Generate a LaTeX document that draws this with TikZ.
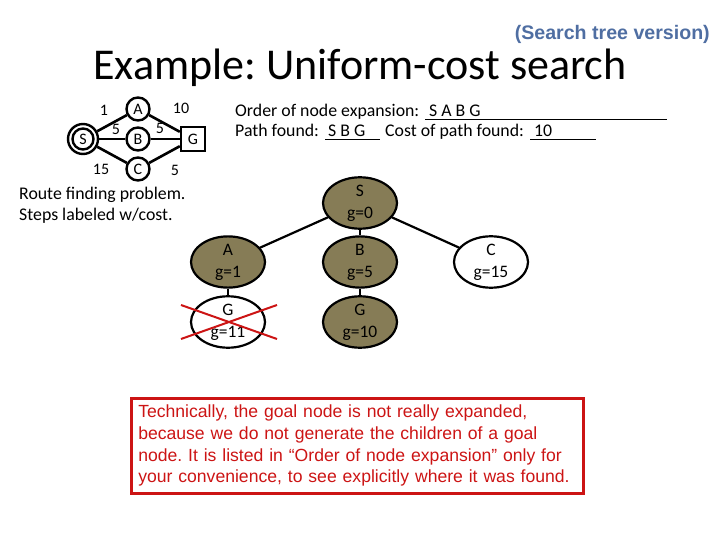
\documentclass[tikz,border=0pt]{standalone}
\usepackage{fontspec}
\setmainfont{Carlito}
\newfontfamily\arialf{Liberation Sans}
\usetikzlibrary{shapes.geometric}
\frenchspacing
\definecolor{olivefill}{RGB}{134,124,86}
\definecolor{boxred}{RGB}{204,20,20}
\definecolor{titleblue}{RGB}{79,110,162}
\tikzset{
  gnode/.style={circle,draw,line width=2.4pt,minimum size=23pt,inner sep=0pt,font=\fontsize{16}{16}\selectfont},
  gedge/.style={line width=2.6pt},
  wlabel/.style={font=\fontsize{16}{16}\selectfont,inner sep=0pt},
  tnode/.style={ellipse,draw,line width=2.2pt,minimum width=74pt,minimum height=44pt,inner sep=0pt,align=center,font=\fontsize{17.5}{22}\selectfont},
  expanded/.style={fill=olivefill},
  tedge/.style={line width=2.2pt},
  txt/.style={inner sep=0pt,anchor=base west,font=\fontsize{17.8}{17.8}\selectfont},
  uline/.style={line width=1pt},
}
\begin{document}
\begin{tikzpicture}[x=1pt,y=-1pt]
\useasboundingbox (0,0) rectangle (720,540);
% titles
\node[inner sep=0pt,anchor=base east,text=titleblue,font=\arialf\bfseries\fontsize{19.6}{19.6}\selectfont] (sub) at (710,40) {(Search tree version)};
\node[inner sep=0pt,anchor=base,font=\fontsize{44}{44}\selectfont] (title) at (360,80) {Example: Uniform-cost search};
% small graph
\node[gnode,minimum size=30pt] (gS) at (83,139) {};
\node[gnode,minimum size=21pt] (gSi) at (83,139) {S};
\node[gnode] (gA) at (138,109) {A};
\node[gnode] (gB) at (138,139) {B};
\node[gnode] (gC) at (138,169) {C};
\node[draw,line width=2.4pt,minimum size=24pt,inner sep=0pt,font=\fontsize{16}{16}\selectfont] (gG) at (193,139) {G};
\draw[gedge] (gS) -- (gA);
\draw[gedge] (gS) -- (gB);
\draw[gedge] (gS) -- (gC);
\draw[gedge] (gA) -- (gG);
\draw[gedge] (gB) -- (gG);
\draw[gedge] (gC) -- (gG);
\node[wlabel] (l1) at (104,110) {1};
\node[wlabel] (l2) at (116,129) {5};
\node[wlabel] (l3) at (181,108) {10};
\node[wlabel] (l4) at (160,128) {5};
\node[wlabel] (l5) at (101,169) {15};
\node[wlabel] (l6) at (175,170) {5};
% order text
\node[txt] (t1) at (235,117) {Order of node expansion:};
\node[txt] (t2) at (429,117) {S A B G};
\coordinate (u1a) at (425,119.5);
\coordinate (u1b) at (667,119.5);
\draw[uline] (u1a) -- (u1b);
\node[txt] (t3) at (235,137) {Path found:};
\node[txt] (t4) at (328,137) {S B G};
\coordinate (u2a) at (325,139.5);
\coordinate (u2b) at (380,139.5);
\draw[uline] (u2a) -- (u2b);
\node[txt] (t5) at (385,137) {Cost of path found:};
\node[txt] (t6) at (534,137) {10};
\coordinate (u3a) at (530,139.5);
\coordinate (u3b) at (596,139.5);
\draw[uline] (u3a) -- (u3b);
% route finding
\node[txt] (r1) at (19,200) {Route finding problem.};
\node[txt] (r2) at (19,221) {Steps labeled w/cost.};
% search tree
\node[tnode,expanded] (S) at (360,203) {S\\g=0};
\node[tnode,expanded] (A) at (228,262) {A\\g=1};
\node[tnode,expanded] (B) at (360,262) {B\\g=5};
\node[tnode] (C) at (491,262) {C\\g=15};
\node[tnode,minimum height=48pt] (G1) at (228,322) {G\\g=11};
\node[tnode,expanded,minimum height=48pt] (G2) at (360,322) {G\\g=10};
\draw[tedge] (S) -- (A);
\draw[tedge] (S) -- (B);
\draw[tedge] (S) -- (C);
\draw[tedge] (A) -- (G1);
\draw[tedge] (B) -- (G2);
% red cross
\coordinate (x1) at (181,305);
\coordinate (x2) at (277,339);
\coordinate (x3) at (181,339);
\coordinate (x4) at (277,305);
\draw[boxred,line width=2pt] (x1) -- (x2);
\draw[boxred,line width=2pt] (x3) -- (x4);
% note box
\node[draw=boxred,line width=2.5pt,text=boxred,anchor=north west,minimum width=452pt,minimum height=95pt,inner xsep=6pt,inner ysep=4pt,align=left,text width=438pt,font=\arialf\fontsize{17.6}{21.7}\selectfont] (note) at (130,397) {Technically, the goal node is not really expanded,\\because we do not generate the children of a goal\\node. It is listed in “Order of node expansion” only for\\your convenience, to see explicitly where it was found.};
\end{tikzpicture}
\end{document}
